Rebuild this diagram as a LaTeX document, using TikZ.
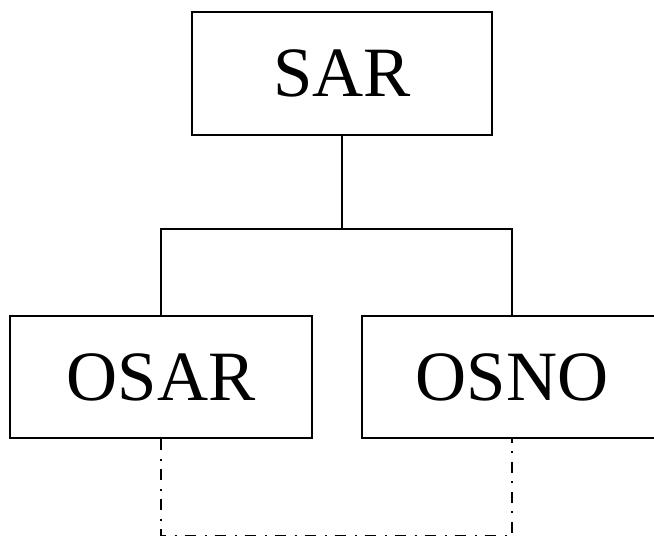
\documentclass[tikz,border=0pt]{standalone}
\usepackage{fontspec}
\setmainfont{Liberation Serif}
\begin{document}
\begin{tikzpicture}[x=1bp,y=-1bp,
  box/.style={draw=black, line width=2bp, inner sep=0pt, font=\fontsize{71}{82}\selectfont},
  conn/.style={draw=black, line width=1.6bp},
  dashdot link/.style={draw=black, line width=1.6bp, dash pattern=on 11bp off 9bp on 2bp off 8bp}]
\useasboundingbox (0,0) rectangle (654,536);
\clip (0,0) rectangle (654,536);
\node[box, minimum width=300bp, minimum height=123bp] (SAR) at (342,73.5) {\raisebox{-3.5bp}{SAR}};
\node[box, minimum width=302bp, minimum height=122bp] (OSAR) at (161,377) {\raisebox{-3bp}{OSAR}};
\node[box, minimum width=300bp, minimum height=122bp] (OSNO) at (512,377) {\raisebox{-3bp}{OSNO}};
\coordinate (j) at (342,229);
\coordinate (b) at (337,535.5);
\draw[conn] (SAR.south) -- (SAR.south |- j);
\draw[conn] (OSAR.north) -- (OSAR.north |- j) -| (OSNO.north);
\draw[dashdot link] (OSAR.south) -- (OSAR.south |- b) -| (OSNO.south);
\end{tikzpicture}
\end{document}
